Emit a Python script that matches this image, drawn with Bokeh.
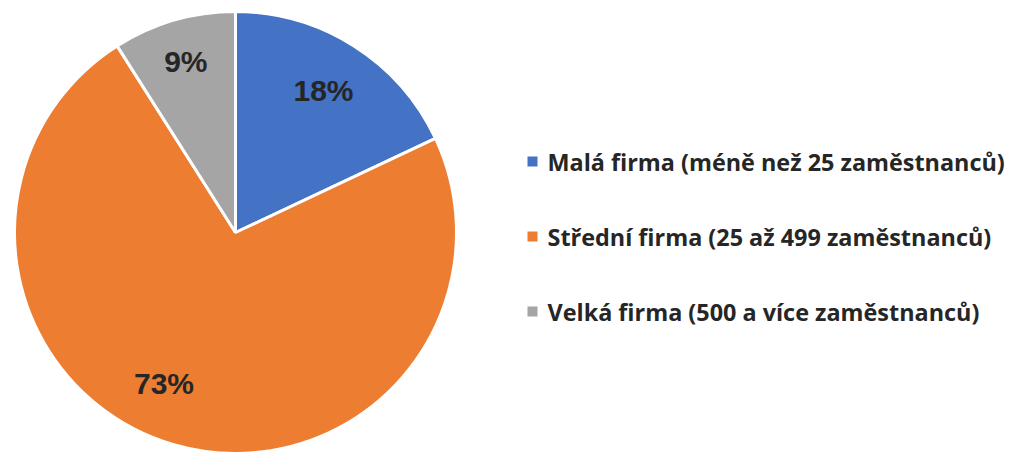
import math
from bokeh.plotting import figure
from bokeh.models import ColumnDataSource, Range1d
from bokeh.core.properties import value
from bokeh.embed import file_html
from bokeh.resources import INLINE

categories = ["Malá firma (méně než 25 zaměstnanců)",
              "Střední firma (25 až 499 zaměstnanců)",
              "Velká firma (500 a více zaměstnanců)"]
shares = [18, 73, 9]
labels = ["18%", "73%", "9%"]
colors = ["#4472C4", "#ED7D31", "#A5A5A5"]

W, H = 1011, 453
p = figure(width=W, height=H, output_backend="svg", toolbar_location=None,
           x_range=Range1d(0, W), y_range=Range1d(0, H),
           min_border=0, min_border_left=0, min_border_right=0,
           min_border_top=0, min_border_bottom=0)
p.axis.visible = False
p.grid.visible = False
p.outline_line_color = None
p.background_fill_color = "white"

cx, cy, R = 235, 221, 221
total = sum(shares)
starts, ends, mids = [], [], []
a = math.pi / 2
for s in shares:
    span = s / total * 2 * math.pi
    starts.append(a - span)
    ends.append(a)
    mids.append(a - span / 2)
    a -= span

src = ColumnDataSource(dict(start=starts, end=ends, color=colors))
p.wedge(x=cx, y=cy, radius=R, start_angle="start", end_angle="end",
        fill_color="color", line_color="white", line_width=3, source=src)

# data labels
lab_r = [0.755, 0.755, 0.805]
lab_shift = [0.01, -0.16, 0.0]
lx = [cx + R * f * math.cos(m + d) for f, m, d in zip(lab_r, mids, lab_shift)]
ly = [cy + R * f * math.sin(m + d) for f, m, d in zip(lab_r, mids, lab_shift)]
p.text(x=lx, y=ly, text=labels, text_font=value("Liberation Sans"),
       text_font_style="bold", text_font_size="30px", text_color="#262626",
       text_align="center", text_baseline="middle")

# legend
ly0 = [H - 161, H - 236, H - 311]
p.rect(x=[532] * 3, y=ly0, width=10, height=10, fill_color=colors, line_color=None)
p.text(x=[547] * 3, y=ly0, text=categories, text_font=value("Open Sans"),
       text_font_style="bold", text_font_size="23.4px", text_color="#262626",
       text_align="left", text_baseline="middle")

open("out.html", "w").write(file_html(p, INLINE))
